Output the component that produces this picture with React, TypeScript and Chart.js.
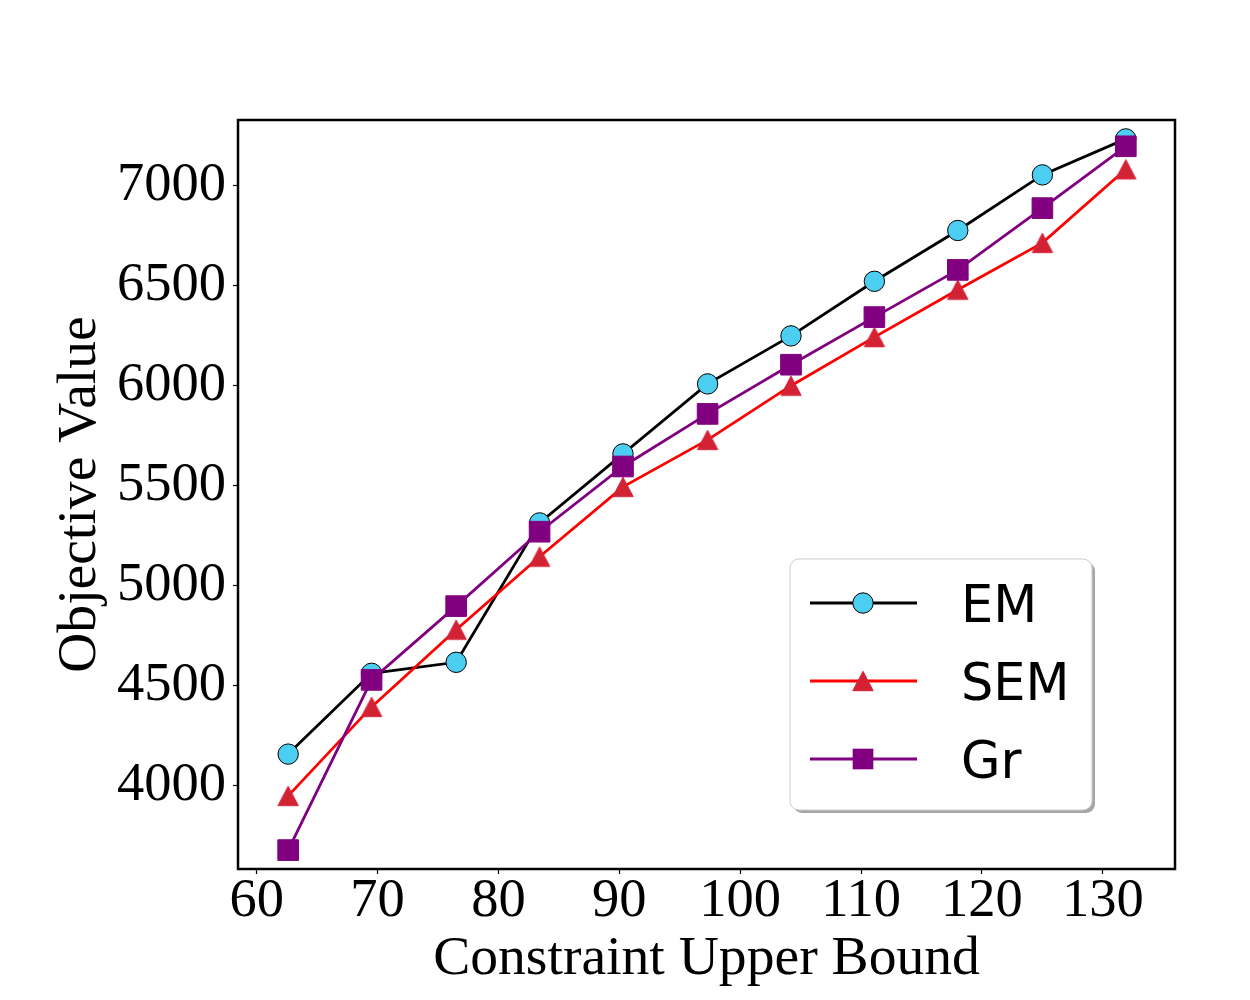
import React, { useEffect, useRef } from "react";
import { Chart, registerables } from "chart.js";

Chart.register(...registerables);

// ---- data ----
const xValues = [62.6, 69.5, 76.5, 83.4, 90.3, 97.3, 104.2, 111.1, 118.0, 125.0, 131.9];
const emValues = [4157, 4561, 4616, 5313, 5658, 6008, 6248, 6521, 6775, 7053, 7233];
const semValues = [3948, 4393, 4779, 5144, 5493, 5728, 5999, 6242, 6479, 6713, 7081];
const grValues = [3677, 4528, 4897, 5269, 5595, 5858, 6104, 6342, 6578, 6887, 7196];
const seriesNames = ["EM", "SEM", "Gr"];
const xTicks = [60, 70, 80, 90, 100, 110, 120, 130];
const yTicks = [4000, 4500, 5000, 5500, 6000, 6500, 7000];
const xRange = [58.45, 135.97];
const yRange = [3582.5, 7327.5];
const xTitle = "Constraint Upper Bound";
const yTitle = "Objective Value";

const SERIF = "'Liberation Serif', 'Times New Roman', 'DejaVu Serif', serif";
const SANS = "'DejaVu Sans', 'Noto Sans', sans-serif";

const EM_FILL = "#4ccdf2";
const SEM_LINE = "#ff0000";
const SEM_FILL = "#d42235";
const GR_COLOR = "#800080";

function makeTriangle(fill: string, stroke: string): HTMLCanvasElement {
  const c = document.createElement("canvas");
  c.width = 24;
  c.height = 24;
  const g = c.getContext("2d")!;
  g.beginPath();
  g.moveTo(12, 2.3);
  g.lineTo(22.2, 21.7);
  g.lineTo(1.8, 21.7);
  g.closePath();
  g.fillStyle = fill;
  g.fill();
  g.lineWidth = 1;
  g.strokeStyle = stroke;
  g.stroke();
  return c;
}

const toPoints = (ys: number[]) => ys.map((y, i) => ({ x: xValues[i], y }));

const spinePlugin = {
  id: "spines",
  afterDatasetsDraw(chart: any) {
    const { ctx, chartArea } = chart;
    ctx.save();
    ctx.strokeStyle = "#000";
    ctx.lineWidth = 2.5;
    ctx.strokeRect(
      chartArea.left,
      chartArea.top,
      chartArea.right - chartArea.left,
      chartArea.bottom - chartArea.top
    );
    ctx.restore();
  },
};

const legendPlugin = {
  id: "boxLegend",
  afterDraw(chart: any) {
    const { ctx } = chart;
    const bx = 790;
    const by = 559;
    const bw = 302;
    const bh = 251;
    const r = 9;
    ctx.save();
    ctx.fillStyle = "rgba(0,0,0,0.35)";
    ctx.beginPath();
    ctx.roundRect(bx + 3, by + 3, bw, bh, r);
    ctx.fill();
    ctx.fillStyle = "#ffffff";
    ctx.strokeStyle = "#cccccc";
    ctx.lineWidth = 1;
    ctx.beginPath();
    ctx.roundRect(bx, by, bw, bh, r);
    ctx.fill();
    ctx.stroke();

    const datasets = chart.data.datasets;
    for (let i = 0; i < datasets.length; i++) {
      const ds = datasets[i];
      const rowY = 603 + i * 78;
      ctx.strokeStyle = ds.borderColor;
      ctx.lineWidth = ds.borderWidth;
      ctx.beginPath();
      ctx.moveTo(810, rowY);
      ctx.lineTo(917, rowY);
      ctx.stroke();
      const mx = 863;
      if (ds.pointStyle === "circle") {
        ctx.beginPath();
        ctx.arc(mx, rowY, ds.pointRadius, 0, Math.PI * 2);
        ctx.fillStyle = ds.pointBackgroundColor;
        ctx.fill();
        ctx.lineWidth = ds.pointBorderWidth;
        ctx.strokeStyle = ds.pointBorderColor;
        ctx.stroke();
      } else if (ds.pointStyle === "rect") {
        const s = Math.SQRT1_2 * ds.pointRadius;
        ctx.fillStyle = ds.pointBackgroundColor;
        ctx.fillRect(mx - s, rowY - s, 2 * s, 2 * s);
      } else if (ds.pointStyle instanceof HTMLCanvasElement) {
        const img = ds.pointStyle;
        ctx.drawImage(img, mx - img.width / 2, rowY - img.height / 2);
      }
      ctx.fillStyle = "#000";
      ctx.font = `51px ${SANS}`;
      ctx.textAlign = "left";
      ctx.textBaseline = "alphabetic";
      ctx.fillText(ds.label, 961, rowY + 19);
    }
    ctx.restore();
  },
};

export default function App() {
  const canvasRef = useRef<HTMLCanvasElement | null>(null);

  useEffect(() => {
    document.body.style.margin = "0";
    document.body.style.overflow = "hidden";
    const canvas = canvasRef.current;
    if (!canvas) return;
    const triangle = makeTriangle(SEM_FILL, SEM_FILL);

    const chart = new Chart(canvas, {
      type: "line",
      data: {
        datasets: [
          {
            label: seriesNames[0],
            data: toPoints(emValues),
            borderColor: "#000000",
            borderWidth: 2.8,
            pointStyle: "circle",
            pointRadius: 10.2,
            pointBackgroundColor: EM_FILL,
            pointBorderColor: "#000000",
            pointBorderWidth: 1,
            order: 3,
            tension: 0,
          },
          {
            label: seriesNames[1],
            data: toPoints(semValues),
            borderColor: SEM_LINE,
            borderWidth: 2.8,
            pointStyle: triangle,
            pointRadius: 10,
            pointBackgroundColor: SEM_FILL,
            pointBorderColor: SEM_FILL,
            pointBorderWidth: 1,
            order: 2,
            tension: 0,
          },
          {
            label: seriesNames[2],
            data: toPoints(grValues),
            borderColor: GR_COLOR,
            borderWidth: 2.8,
            pointStyle: "rect",
            pointRadius: 14.6,
            pointBackgroundColor: GR_COLOR,
            pointBorderColor: GR_COLOR,
            pointBorderWidth: 1,
            order: 1,
            tension: 0,
          },
        ] as any,
      },
      options: {
        responsive: false,
        animation: false,
        events: [],
        layout: { padding: { top: 120, right: 75, left: 0, bottom: 0 } },
        plugins: {
          legend: { display: false },
          tooltip: { enabled: false },
        },
        scales: {
          x: {
            type: "linear",
            min: xRange[0],
            max: xRange[1],
            afterBuildTicks: (scale: any) => {
              scale.ticks = xTicks.map((v) => ({ value: v }));
            },
            afterFit: (scale: any) => {
              scale.height = 131;
            },
            grid: {
              display: true,
              drawOnChartArea: false,
              drawTicks: true,
              tickLength: 5,
              tickWidth: 1.2,
              tickColor: "#000",
            },
            border: { display: false },
            ticks: {
              color: "#000",
              padding: 0,
              maxRotation: 0,
              autoSkip: false,
              font: { family: SERIF, size: 54.5, lineHeight: 1 },
              callback: (v: any) => String(v),
            },
            title: {
              display: true,
              text: xTitle,
              color: "#000",
              font: { family: SERIF, size: 55.6, lineHeight: 1 },
              padding: { top: 0, bottom: 13 },
            },
          },
          y: {
            type: "linear",
            min: yRange[0],
            max: yRange[1],
            afterBuildTicks: (scale: any) => {
              scale.ticks = yTicks.map((v) => ({ value: v }));
            },
            afterFit: (scale: any) => {
              scale.width = 238;
            },
            grid: {
              display: true,
              drawOnChartArea: false,
              drawTicks: true,
              tickLength: 5,
              tickWidth: 1.2,
              tickColor: "#000",
            },
            border: { display: false },
            ticks: {
              color: "#000",
              padding: 7,
              autoSkip: false,
              font: { family: SERIF, size: 54.5, lineHeight: 1 },
              callback: (v: any) => String(v),
            },
            title: {
              display: true,
              text: yTitle,
              color: "#000",
              font: { family: SERIF, size: 55.6, lineHeight: 1 },
              padding: { top: 53, bottom: 0 },
            },
          },
        },
      },
      plugins: [spinePlugin, legendPlugin],
    });

    return () => chart.destroy();
  }, []);

  return (
    <div style={{ width: 1250, height: 1000, background: "#fff" }}>
      <canvas ref={canvasRef} width={1250} height={1000} style={{ display: "block" }} />
    </div>
  );
}
